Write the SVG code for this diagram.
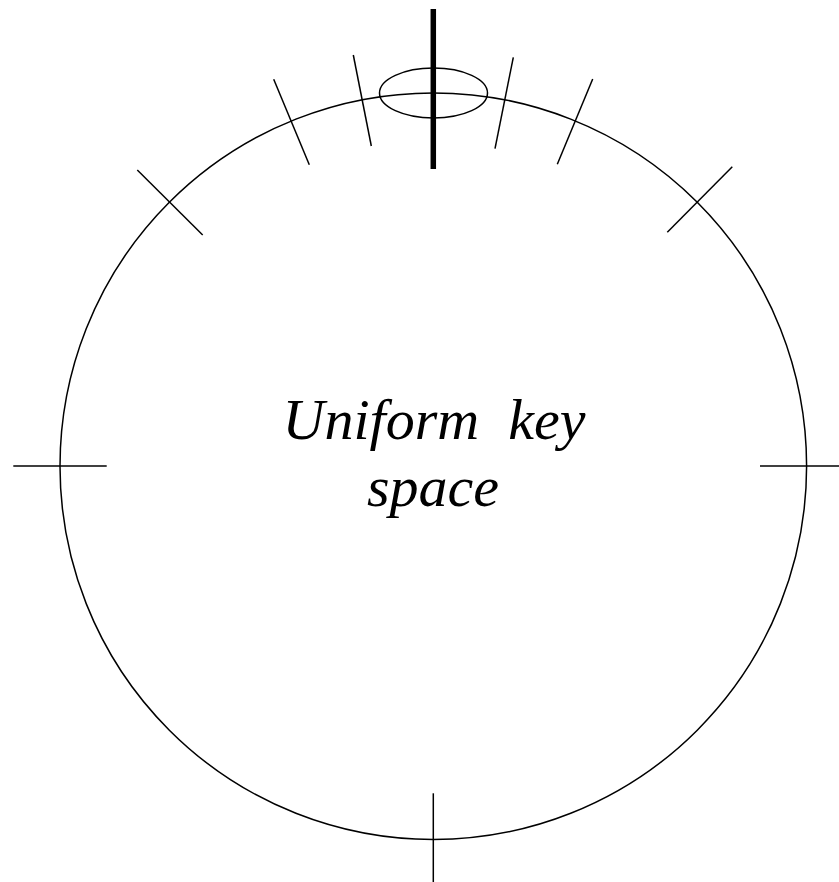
<svg xmlns="http://www.w3.org/2000/svg" width="839" height="882" viewBox="0 0 839 882">
<style>
.s{fill:none;stroke:#000;stroke-width:1.5}
.t{font-family:"Liberation Serif",serif;font-style:italic;font-size:58px;fill:#000}
</style>
<rect width="839" height="882" fill="#fff"/>
<g id="ring">
<circle class="s" cx="433.3" cy="466.2" r="373.3"/>
</g>
<g id="selected">
<ellipse class="s" cx="433.5" cy="93" rx="54" ry="25"/>
<line x1="433.3" y1="9" x2="433.3" y2="169" stroke="#000" stroke-width="5.5"/>
</g>
<g id="ticks">
<line class="s" x1="273.7" y1="79.3" x2="309.3" y2="164.7"/>
<line class="s" x1="353.3" y1="55" x2="371.3" y2="146"/>
<line class="s" x1="513.3" y1="57.3" x2="495" y2="148.7"/>
<line class="s" x1="592.7" y1="79" x2="557.3" y2="164.3"/>
<line class="s" x1="137.3" y1="170" x2="202.7" y2="235"/>
<line class="s" x1="732.3" y1="166.7" x2="667.3" y2="232.3"/>
<line class="s" x1="13.3" y1="466" x2="106.7" y2="466"/>
<line class="s" x1="760" y1="466" x2="839" y2="466"/>
<line class="s" x1="433.3" y1="793.3" x2="433.3" y2="882"/>
</g>
<g id="label">
<text class="t" x="434" y="439" text-anchor="middle" xml:space="preserve">Uniform  key</text>
<text class="t" x="433" y="506" text-anchor="middle">space</text>
</g>
</svg>
